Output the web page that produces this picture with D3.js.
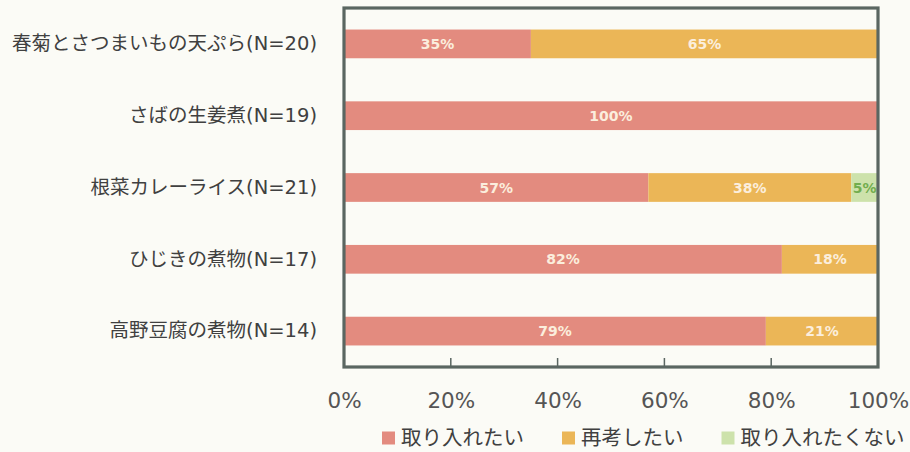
<!DOCTYPE html>
<html lang="ja">
<head>
<meta charset="utf-8">
<script src="https://cdn.jsdelivr.net/npm/d3@7"></script>
<style>
  html, body { margin: 0; padding: 0; background: #fbfbf6; }
  svg { display: block; }
</style>
</head>
<body>
<svg id="chart" width="910" height="452"></svg>
<script>
// Menu items and the share of answers for each response
const categories = [
  "春菊とさつまいもの天ぷら(N=20)",
  "さばの生姜煮(N=19)",
  "根菜カレーライス(N=21)",
  "ひじきの煮物(N=17)",
  "高野豆腐の煮物(N=14)"
];
const seriesNames = ["取り入れたい", "再考したい", "取り入れたくない"];
const wantValues = [35, 100, 57, 82, 79];
const reconsiderValues = [65, 0, 38, 18, 21];
const notWantValues = [0, 0, 5, 0, 0];
const tickValues = [0, 20, 40, 60, 80, 100];
const tickLabels = ["0%", "20%", "40%", "60%", "80%", "100%"];

const colors = ["#e38b7f", "#ebb657", "#cde2ab"];
const labelColors = ["#fbeedd", "#fbeedd", "#72ad4e"];

const svg = d3.select("#chart");
const plot = { left: 344, right: 878, top: 8, bottom: 367 };

const x = d3.scaleLinear().domain([0, 100]).range([plot.left, plot.right]);
const y = d3.scaleBand().domain(categories).range([plot.top, plot.bottom])
  .paddingInner(0.6).paddingOuter(0.3);

const rows = categories.map((c, i) => ({
  category: c,
  [seriesNames[0]]: wantValues[i],
  [seriesNames[1]]: reconsiderValues[i],
  [seriesNames[2]]: notWantValues[i]
}));
const stacked = d3.stack().keys(seriesNames)(rows);

// bars
const layers = svg.append("g").selectAll("g").data(stacked).join("g")
  .attr("fill", (d, i) => colors[i]);
layers.selectAll("rect").data(d => d.map(p => ({ p, key: d.key })))
  .join("rect")
  .attr("x", d => x(d.p[0]))
  .attr("y", d => y(d.p.data.category))
  .attr("width", d => x(d.p[1]) - x(d.p[0]))
  .attr("height", y.bandwidth());

// value labels in the middle of each segment
stacked.forEach((layer, si) => {
  svg.append("g").selectAll("text")
    .data(layer.filter(p => p[1] - p[0] > 0))
    .join("text")
    .attr("x", p => (x(p[0]) + x(p[1])) / 2)
    .attr("y", p => y(p.data.category) + y.bandwidth() / 2)
    .attr("dy", "0.36em")
    .attr("text-anchor", "middle")
    .attr("font-family", "'DejaVu Sans', Verdana, sans-serif")
    .attr("font-weight", "bold")
    .attr("font-size", 14)
    .attr("fill", labelColors[si])
    .text(p => `${p[1] - p[0]}%`);
});

// frame around the plot area
svg.append("rect")
  .attr("x", plot.left).attr("y", plot.top)
  .attr("width", plot.right - plot.left).attr("height", plot.bottom - plot.top)
  .attr("fill", "none").attr("stroke", "#5a6661").attr("stroke-width", 3.2);

// x axis: inner tick marks on the bottom edge, labels below
const xAxis = d3.axisBottom(x).tickValues(tickValues)
  .tickFormat((d, i) => tickLabels[i]).tickSize(0).tickPadding(26);
const gx = svg.append("g").attr("transform", `translate(0,${plot.bottom})`).call(xAxis);
gx.select(".domain").remove();
gx.selectAll("text")
  .attr("font-family", "'DejaVu Sans', Verdana, sans-serif")
  .attr("font-size", 21.5)
  .attr("fill", "#555555");
svg.append("g").selectAll("line")
  .data(tickValues.slice(1, -1)).join("line")
  .attr("x1", d => x(d)).attr("x2", d => x(d))
  .attr("y1", plot.bottom).attr("y2", plot.bottom - 9)
  .attr("stroke", "#5a6661").attr("stroke-width", 1.5);

// category labels: Japanese name in a CJK face, the (N=..) part in a Latin face
const yAxis = d3.axisLeft(y).tickSize(0).tickPadding(27);
const gy = svg.append("g").attr("transform", `translate(${plot.left},0)`).call(yAxis);
gy.select(".domain").remove();
gy.selectAll("text")
  .attr("font-size", 19.5)
  .attr("fill", "#404040")
  .each(function (d) {
    const cut = d.indexOf("(");
    const t = d3.select(this).text(null);
    t.append("tspan").attr("font-family", "'Noto Sans CJK JP', sans-serif").text(d.slice(0, cut));
    t.append("tspan").attr("font-family", "'DejaVu Sans', Verdana, sans-serif").text(d.slice(cut));
  });

// legend
const legend = svg.append("g").attr("transform", "translate(382,438)");
let lx = 0;
seriesNames.forEach((name, i) => {
  const g = legend.append("g").attr("transform", `translate(${lx},0)`);
  g.append("rect").attr("x", 0).attr("y", -6.5).attr("width", 13).attr("height", 13)
    .attr("fill", colors[i]);
  const t = g.append("text").attr("x", 19).attr("dy", "0.36em")
    .attr("font-family", "'Noto Sans CJK JP', sans-serif")
    .attr("font-size", 20.5)
    .attr("fill", "#404040")
    .text(name);
  lx += 19 + t.node().getComputedTextLength() + 38;
});
</script>
</body>
</html>
